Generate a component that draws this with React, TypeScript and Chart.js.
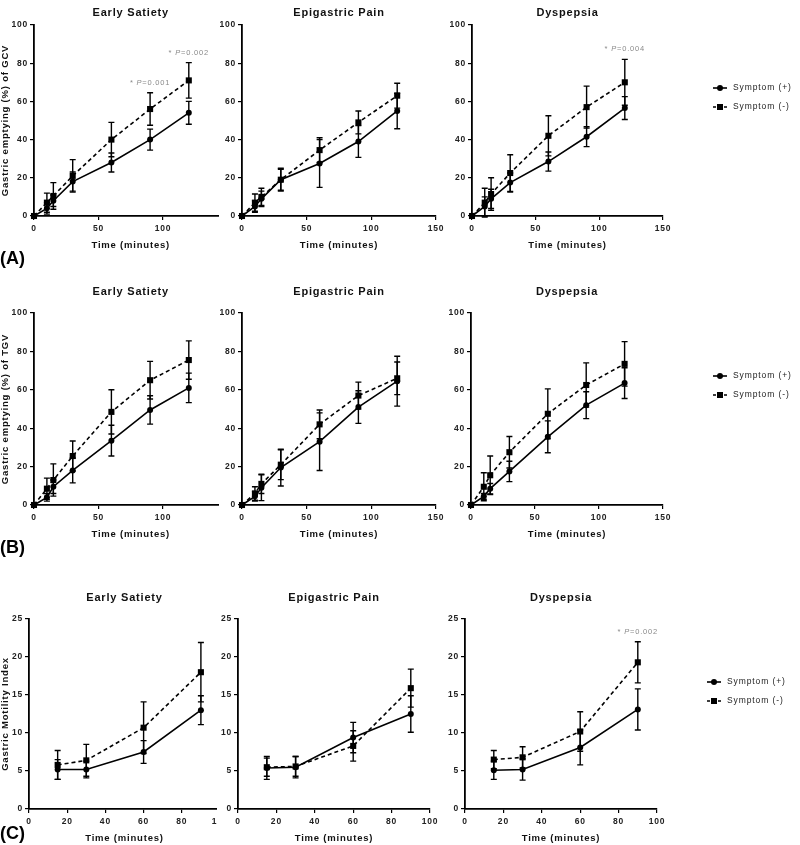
import React, { useEffect, useRef } from 'react';
import { Chart, registerables } from 'chart.js';

Chart.register(...registerables);

const FONT = "'Liberation Sans', Arial, Helvetica, sans-serif";

// ---------- text ----------
const SERIES_LABELS = ['Symptom (+)', 'Symptom (-)'];
const PANEL_TITLES = ['Early Satiety', 'Epigastric Pain', 'Dyspepsia'];
const ROW_TAGS = ['(A)', '(B)', '(C)'];
const Y_TITLES = ['Gastric emptying (%) of GCV', 'Gastric emptying (%) of TGV', 'Gastric Motility Index'];
const X_TITLE = 'Time (minutes)';

// ---------- x values and ticks ----------
const TIME_GE = [0, 10, 15, 30, 60, 90, 120];
const TIME_GMI = [15, 30, 60, 90];
const GE_X_TICKS = [0, 50, 100, 150];
const GE_Y_TICKS = [0, 20, 40, 60, 80, 100];
const GMI_X_TICKS = [0, 20, 40, 60, 80, 100];
const GMI_Y_TICKS = [0, 5, 10, 15, 20, 25];

// ---------- (A) gastric emptying of GCV ----------
const GCV_SAT_POS = [0, 4, 8, 18, 28, 40, 54];
const GCV_SAT_POS_ERR = [0, 3, 3, 5, 5, 5.5, 6];
const GCV_SAT_NEG = [0, 7, 10.5, 21, 40, 56, 71];
const GCV_SAT_NEG_ERR = [0, 5, 7, 8.5, 9, 8.5, 9.3];
const GCV_SAT_NOTES = [{ at: 90, p: '0.001' }, { at: 120, p: '0.002' }];

const GCV_PAIN_POS = [0, 5, 9, 19, 27.5, 39, 55];
const GCV_PAIN_POS_ERR = [0, 3, 4, 6, 12.5, 8.3, 9.3];
const GCV_PAIN_NEG = [0, 7, 10, 19, 34.5, 49, 63];
const GCV_PAIN_NEG_ERR = [0, 4.5, 4.5, 5.5, 6.5, 6, 6.5];
const GCV_PAIN_NOTES: { at: number; p: string }[] = [];

const GCV_DYS_POS = [0, 5, 9, 17.5, 28.5, 41.5, 56.5];
const GCV_DYS_POS_ERR = [0, 5, 5, 5, 5, 5.2, 6];
const GCV_DYS_NEG = [0, 7, 11.5, 22.5, 42, 57, 70];
const GCV_DYS_NEG_ERR = [0, 7.5, 8.5, 9.6, 10.5, 11, 12];
const GCV_DYS_NOTES = [{ at: 120, p: '0.004' }];

// ---------- (B) gastric emptying of TGV ----------
const TGV_SAT_POS = [0, 4, 9.5, 18, 33.5, 49.5, 61];
const TGV_SAT_POS_ERR = [0, 2, 3.5, 6.5, 8, 7.4, 7.7];
const TGV_SAT_NEG = [0, 8.5, 13, 25.5, 48.5, 65, 75.5];
const TGV_SAT_NEG_ERR = [0, 5.5, 8.4, 7.8, 11.5, 9.8, 10];
const TGV_SAT_NOTES: { at: number; p: string }[] = [];

const TGV_PAIN_POS = [0, 4.5, 9, 19.5, 33, 51, 64.5];
const TGV_PAIN_POS_ERR = [0, 2.5, 6.7, 9.6, 15, 8.5, 13];
const TGV_PAIN_NEG = [0, 6, 11, 21, 42, 57, 66];
const TGV_PAIN_NEG_ERR = [0, 3.5, 5, 7.8, 7.5, 7, 8.5];
const TGV_PAIN_NOTES: { at: number; p: string }[] = [];

const TGV_DYS_POS = [0, 4.5, 8.5, 17.5, 35.5, 52, 63.5];
const TGV_DYS_POS_ERR = [0, 1.5, 2.7, 5.3, 8.3, 7, 8];
const TGV_DYS_NEG = [0, 9.5, 15.5, 27.5, 47.5, 62.5, 73.5];
const TGV_DYS_NEG_ERR = [0, 7.3, 10, 8.2, 13, 11.5, 11.6];
const TGV_DYS_NOTES: { at: number; p: string }[] = [];

// ---------- (C) gastric motility index ----------
const GMI_SAT_POS = [5.2, 5.2, 7.5, 13];
const GMI_SAT_POS_ERR = [1.3, 1.1, 1.5, 1.9];
const GMI_SAT_NEG = [5.8, 6.4, 10.7, 18];
const GMI_SAT_NEG_ERR = [1.9, 2.1, 3.4, 3.9];
const GMI_SAT_NOTES: { at: number; p: string }[] = [];

const GMI_PAIN_POS = [5.4, 5.5, 9.4, 12.5];
const GMI_PAIN_POS_ERR = [1.5, 1.4, 2, 2.4];
const GMI_PAIN_NEG = [5.5, 5.6, 8.3, 15.9];
const GMI_PAIN_NEG_ERR = [1.2, 1.3, 2, 2.5];
const GMI_PAIN_NOTES: { at: number; p: string }[] = [];

const GMI_DYS_POS = [5.1, 5.2, 8.1, 13.1];
const GMI_DYS_POS_ERR = [1.2, 1.4, 2.3, 2.7];
const GMI_DYS_NEG = [6.5, 6.8, 10.2, 19.3];
const GMI_DYS_NEG_ERR = [1.2, 1.4, 2.6, 2.7];
const GMI_DYS_NOTES = [{ at: 90, p: '0.002' }];

const PANELS = [
  { x: TIME_GE, pos: GCV_SAT_POS, posErr: GCV_SAT_POS_ERR, neg: GCV_SAT_NEG, negErr: GCV_SAT_NEG_ERR, notes: GCV_SAT_NOTES },
  { x: TIME_GE, pos: GCV_PAIN_POS, posErr: GCV_PAIN_POS_ERR, neg: GCV_PAIN_NEG, negErr: GCV_PAIN_NEG_ERR, notes: GCV_PAIN_NOTES },
  { x: TIME_GE, pos: GCV_DYS_POS, posErr: GCV_DYS_POS_ERR, neg: GCV_DYS_NEG, negErr: GCV_DYS_NEG_ERR, notes: GCV_DYS_NOTES },
  { x: TIME_GE, pos: TGV_SAT_POS, posErr: TGV_SAT_POS_ERR, neg: TGV_SAT_NEG, negErr: TGV_SAT_NEG_ERR, notes: TGV_SAT_NOTES },
  { x: TIME_GE, pos: TGV_PAIN_POS, posErr: TGV_PAIN_POS_ERR, neg: TGV_PAIN_NEG, negErr: TGV_PAIN_NEG_ERR, notes: TGV_PAIN_NOTES },
  { x: TIME_GE, pos: TGV_DYS_POS, posErr: TGV_DYS_POS_ERR, neg: TGV_DYS_NEG, negErr: TGV_DYS_NEG_ERR, notes: TGV_DYS_NOTES },
  { x: TIME_GMI, pos: GMI_SAT_POS, posErr: GMI_SAT_POS_ERR, neg: GMI_SAT_NEG, negErr: GMI_SAT_NEG_ERR, notes: GMI_SAT_NOTES },
  { x: TIME_GMI, pos: GMI_PAIN_POS, posErr: GMI_PAIN_POS_ERR, neg: GMI_PAIN_NEG, negErr: GMI_PAIN_NEG_ERR, notes: GMI_PAIN_NOTES },
  { x: TIME_GMI, pos: GMI_DYS_POS, posErr: GMI_DYS_POS_ERR, neg: GMI_DYS_NEG, negErr: GMI_DYS_NEG_ERR, notes: GMI_DYS_NOTES },
];

// ---------- layout (pixels) ----------
const ROW_GEOM = [
  { top: 25, bottom: 216, canvasTop: 0, titleGap: 5.4, tagTop: 249 },
  { top: 313, bottom: 505, canvasTop: 283, titleGap: 14.4, tagTop: 538 },
  { top: 619, bottom: 809, canvasTop: 589, titleGap: 14.4, tagTop: 824 },
];
const COL_GEOM = [
  [{ left: 34, right: 227.5, yw: 34, clip: 219 }, { left: 242, right: 436, yw: 24 }, { left: 472, right: 663, yw: 24 }],
  [{ left: 34, right: 227.5, yw: 34, clip: 219 }, { left: 242, right: 436, yw: 24 }, { left: 471, right: 663, yw: 24 }],
  [{ left: 29, right: 220, yw: 29, clip: 216.5 }, { left: 238, right: 430, yw: 24 }, { left: 465, right: 657, yw: 24 }],
];
const XH = 35;
const TITLE_SIZE = 11;

function Panel({ index }: { index: number }) {
  const ref = useRef<HTMLCanvasElement | null>(null);
  const r = Math.floor(index / 3);
  const c = index % 3;
  const row = ROW_GEOM[r];
  const col: any = COL_GEOM[r][c];
  const p = PANELS[index];
  const isGMI = r === 2;

  const TH = TITLE_SIZE * 1.2 + row.titleGap;
  const CL = col.left - col.yw;
  const CT = row.canvasTop;
  const padTop = row.top - CT - TH;
  const CH = Math.ceil(row.bottom + XH - CT);
  const padBottom = CH - (row.bottom + XH - CT);
  const rightEdge = c === 2 ? 800 : col.right + 12;
  const CW = Math.ceil(rightEdge - CL);
  const padRight = CL + CW - col.right;
  const wrapW = col.clip ? col.clip - CL : CW;

  useEffect(() => {
    const canvas = ref.current;
    if (!canvas) return;
    const xTicks = isGMI ? GMI_X_TICKS : GE_X_TICKS;
    const yTicks = isGMI ? GMI_Y_TICKS : GE_Y_TICKS;

    const spacingPlugin = {
      id: 'spacing',
      beforeUpdate(chart: any) { chart.ctx.letterSpacing = '0.8px'; },
      beforeDraw(chart: any) { chart.ctx.letterSpacing = '0.8px'; },
    };

    const errorBarPlugin = {
      id: 'errorBars',
      beforeDatasetsDraw(chart: any) {
        const { ctx } = chart;
        const ys = chart.scales.y;
        chart.data.datasets.forEach((ds: any, di: number) => {
          const meta = chart.getDatasetMeta(di);
          const errs = ds.errors;
          if (!errs) return;
          ctx.save();
          ctx.strokeStyle = '#000';
          ctx.lineWidth = 1.4;
          ctx.setLineDash([]);
          meta.data.forEach((pt: any, i: number) => {
            const e = errs[i];
            if (!e) return;
            const v = ds.data[i].y;
            const x = pt.x;
            const y1 = ys.getPixelForValue(v + e);
            const y2 = ys.getPixelForValue(v - e);
            ctx.beginPath();
            ctx.moveTo(x, y1); ctx.lineTo(x, y2);
            ctx.moveTo(x - 3, y1); ctx.lineTo(x + 3, y1);
            ctx.moveTo(x - 3, y2); ctx.lineTo(x + 3, y2);
            ctx.stroke();
          });
          ctx.restore();
        });
      },
    };

    const notesPlugin = {
      id: 'pNotes',
      afterDraw(chart: any) {
        if (!p.notes.length) return;
        const { ctx } = chart;
        const ds = chart.data.datasets[1];
        const meta = chart.getDatasetMeta(1);
        p.notes.forEach((n) => {
          const i = ds.data.findIndex((d: any) => d.x === n.at);
          if (i < 0) return;
          const px = meta.data[i].x;
          const capY = chart.scales.y.getPixelForValue(ds.data[i].y + ds.errors[i]);
          const y = capY - 10;
          const parts = [
            { t: '* ', f: `7.5px ${FONT}` },
            { t: 'P', f: `italic 7.5px ${FONT}` },
            { t: '=' + n.p, f: `7.5px ${FONT}` },
          ];
          ctx.save();
          ctx.letterSpacing = '0.8px';
          ctx.fillStyle = '#8a8a8a';
          ctx.textBaseline = 'middle';
          ctx.textAlign = 'left';
          let total = 0;
          const widths = parts.map((pp) => { ctx.font = pp.f; const w = ctx.measureText(pp.t).width; total += w; return w; });
          let x = px - total / 2;
          parts.forEach((pp, k) => { ctx.font = pp.f; ctx.fillText(pp.t, x, y); x += widths[k]; });
          ctx.restore();
        });
      },
    };

    const legendPlugin = {
      id: 'sideLegend',
      afterDraw(chart: any) {
        if (c !== 2) return;
        const { ctx, chartArea } = chart;
        const x0 = chartArea.right + 50;
        chart.data.datasets.forEach((ds: any, i: number) => {
          const y = chartArea.top + 63 + i * 19;
          ctx.save();
          ctx.strokeStyle = '#000';
          ctx.fillStyle = '#000';
          ctx.lineWidth = 1.6;
          ctx.setLineDash(i === 1 ? [3, 2.5] : []);
          ctx.beginPath();
          ctx.moveTo(x0, y); ctx.lineTo(x0 + 14, y);
          ctx.stroke();
          ctx.setLineDash([]);
          ctx.beginPath();
          if (i === 0) {
            ctx.arc(x0 + 7, y, 3, 0, Math.PI * 2);
          } else {
            ctx.rect(x0 + 7 - 3, y - 3, 6, 6);
          }
          ctx.fill();
          ctx.font = `8.5px ${FONT}`;
          ctx.letterSpacing = '0.9px';
          ctx.fillStyle = '#222';
          ctx.textBaseline = 'middle';
          ctx.textAlign = 'left';
          ctx.fillText(ds.label, x0 + 20, y);
          ctx.restore();
        });
      },
    };

    const mk = (vals: number[], errs: number[], k: number) => ({
      label: SERIES_LABELS[k],
      data: p.x.map((t, i) => ({ x: t, y: vals[i] })),
      errors: errs,
      borderColor: '#000',
      backgroundColor: '#000',
      borderWidth: 1.6,
      borderDash: k === 1 ? [4, 3] : [],
      pointStyle: k === 1 ? 'rect' : 'circle',
      pointRadius: k === 1 ? 4.3 : 3,
      pointBorderWidth: 0,
      pointBackgroundColor: '#000',
      tension: 0,
      clip: false,
    });

    const chart = new Chart(canvas, {
      type: 'line',
      data: { datasets: [mk(p.pos, p.posErr, 0), mk(p.neg, p.negErr, 1)] as any },
      options: {
        animation: false,
        responsive: false,
        events: [],
        layout: { padding: { left: 0, top: padTop, right: padRight, bottom: padBottom } },
        plugins: {
          legend: { display: false },
          tooltip: { enabled: false },
          title: {
            display: true,
            text: PANEL_TITLES[c],
            fullSize: false,
            color: '#111',
            font: { family: FONT, size: TITLE_SIZE, weight: 'bold', lineHeight: 1.2 },
            padding: { top: 0, bottom: row.titleGap },
          },
        },
        scales: {
          x: {
            type: 'linear',
            min: xTicks[0],
            max: xTicks[xTicks.length - 1],
            afterBuildTicks: (s: any) => { s.ticks = xTicks.map((v) => ({ value: v })); },
            afterFit: (s: any) => { s.height = XH; s.paddingLeft = 0; s.paddingRight = 0; },
            grid: { drawOnChartArea: false, drawTicks: true, tickLength: 4, color: '#000', lineWidth: 1.2 },
            border: { display: true, color: '#000', width: 1.8 },
            ticks: { color: '#222', padding: 4, maxRotation: 0, autoSkip: false, font: { family: FONT, size: 8.5, weight: 'bold' } },
            title: { display: true, text: X_TITLE, color: '#111', padding: { top: 0, bottom: 0 }, font: { family: FONT, size: 9.5, weight: 'bold', lineHeight: 1.2 } },
          },
          y: {
            type: 'linear',
            min: yTicks[0],
            max: yTicks[yTicks.length - 1],
            afterBuildTicks: (s: any) => { s.ticks = yTicks.map((v) => ({ value: v })); },
            afterFit: (s: any) => { s.width = col.yw; s.paddingTop = 0; s.paddingBottom = 0; },
            grid: { drawOnChartArea: false, drawTicks: true, tickLength: 4, color: '#000', lineWidth: 1.2 },
            border: { display: true, color: '#000', width: 1.8 },
            ticks: { color: '#222', padding: 2, autoSkip: false, font: { family: FONT, size: 8.5, weight: 'bold' } },
            title: { display: c === 0, text: Y_TITLES[r], color: '#111', padding: { top: 0, bottom: 0 }, font: { family: FONT, size: 9.5, weight: 'bold', lineHeight: 1.2 } },
          },
        },
      } as any,
      plugins: [spacingPlugin, errorBarPlugin, notesPlugin, legendPlugin] as any,
    });
    return () => chart.destroy();
  }, []);

  return (
    <div style={{ position: 'absolute', left: CL, top: CT, width: wrapW, height: CH, overflow: 'hidden' }}>
      <canvas ref={ref} width={CW} height={CH} style={{ display: 'block', width: CW, height: CH }} />
    </div>
  );
}

export default function App() {
  return (
    <div style={{ position: 'absolute', left: 0, top: 0, width: 800, height: 845, overflow: 'hidden', background: '#fff' }}>
      {PANELS.map((_, i) => <Panel key={i} index={i} />)}
      {ROW_TAGS.map((t, r) => (
        <div key={t} style={{ position: 'absolute', left: 0, top: ROW_GEOM[r].tagTop, fontFamily: FONT, fontWeight: 'bold', fontSize: 18, lineHeight: '18px', color: '#000' }}>{t}</div>
      ))}
    </div>
  );
}
